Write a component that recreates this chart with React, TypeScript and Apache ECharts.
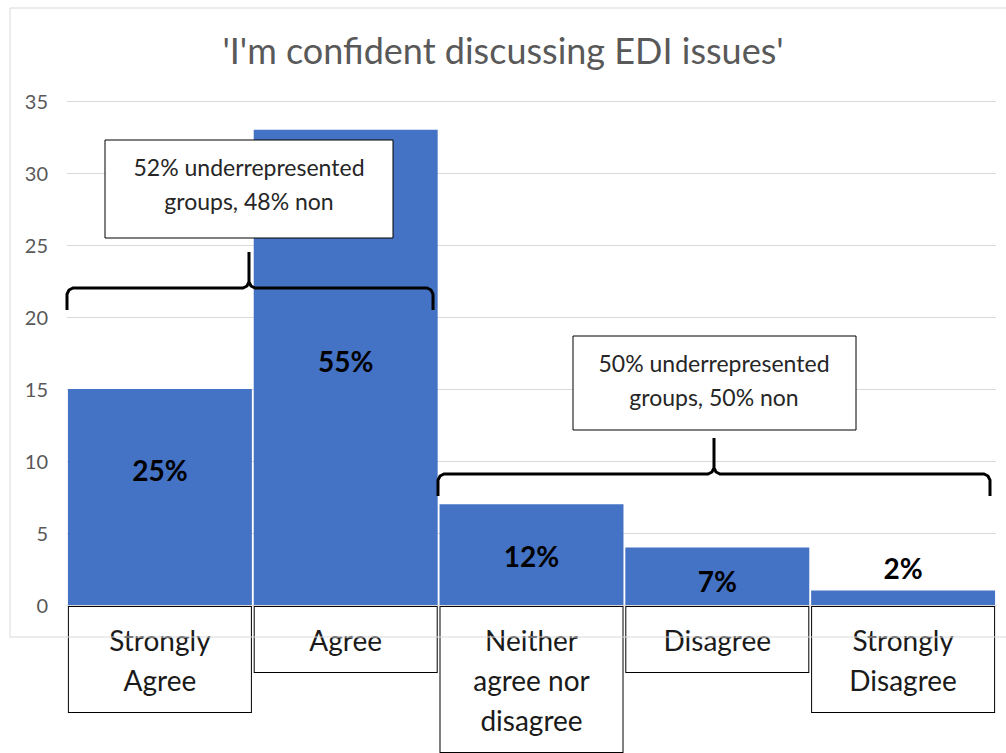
import React, { useEffect, useRef } from "react";
import * as echarts from "echarts";

const categories = [
  "Strongly\nAgree",
  "Agree",
  "Neither\nagree nor\ndisagree",
  "Disagree",
  "Strongly\nDisagree",
];
const counts = [15, 33, 7, 4, 1];
const percentLabels = ["25%", "55%", "12%", "7%", "2%"];
const yTicks = { min: 0, max: 35, interval: 5 };
const titleText = "'I'm confident discussing EDI issues'";
const noteAgree = ["52% underrepresented", "groups, 48% non"];
const noteRest = ["50% underrepresented", "groups, 50% non"];

const FONT = "Lato, 'Open Sans', sans-serif";

// label vertical nudges (styling only)
const labelOffsetsY = [-27, -6, 1, 5, -4];

function brace(x1: number, x2: number, tipX: number, y: number, endY: number, tipY: number) {
  const r = 6;
  return [
    [x1, endY],
    [x1, y + r],
    [x1 + 2, y + 2],
    [x1 + r, y],
    [tipX - r, y],
    [tipX - 2, y - 2],
    [tipX, y - r],
    [tipX, tipY],
    [tipX, y - r],
    [tipX + 2, y - 2],
    [tipX + r, y],
    [x2 - r, y],
    [x2 - 2, y + 2],
    [x2, y + r],
    [x2, endY],
  ];
}

export default function App() {
  const ref = useRef<HTMLDivElement>(null);
  useEffect(() => {
    if (!ref.current) return;
    const chart = echarts.init(ref.current, undefined, { renderer: "svg" });
    const option: any = {
      animation: false,
      backgroundColor: "#ffffff",
      title: {
        text: titleText,
        left: "center",
        top: 27,
        textStyle: {
          fontFamily: FONT,
          fontSize: 36,
          fontWeight: "normal",
          color: "#595959",
        },
      },
      grid: { left: 67, right: 10, top: 101, bottom: 147, containLabel: false },
      xAxis: {
        type: "category",
        data: categories,
        axisTick: { show: false },
        axisLine: { lineStyle: { color: "#d9d9d9" } },
        axisLabel: {
          interval: 0,
          margin: 2,
          verticalAlign: "top",
          fontFamily: FONT,
          fontSize: 28,
          lineHeight: 40,
          color: "#1a1a1a",
          width: 182,
          align: "center",
          backgroundColor: "#ffffff",
          borderColor: "#000000",
          borderWidth: 1,
          padding: [13, 0, 12, 0],
        },
      },
      yAxis: {
        type: "value",
        min: yTicks.min,
        max: yTicks.max,
        interval: yTicks.interval,
        axisLine: { show: false },
        axisTick: { show: false },
        splitLine: { lineStyle: { color: "#d9d9d9", width: 1 } },
        axisLabel: {
          margin: 19,
          fontFamily: FONT,
          fontSize: 20,
          color: "#595959",
        },
      },
      series: [
        {
          type: "bar",
          barCategoryGap: "1%",
          itemStyle: { color: "#4472c4" },
          data: counts.map((v, i) => ({
            value: v,
            label: {
              show: true,
              position: i === counts.length - 1 ? "top" : "inside",
              offset: [0, labelOffsetsY[i]],
              formatter: () => percentLabels[i],
              fontFamily: FONT,
              fontSize: 28,
              fontWeight: "bold",
              color: "#000000",
            },
          })),
        },
      ],
      graphic: [
        {
          type: "rect",
          z: 100,
          shape: { x: 10, y: 8, width: 1010, height: 629 },
          style: { fill: "none", stroke: "#d9d9d9", lineWidth: 1 },
          silent: true,
        },
        {
          type: "polyline",
          z: 100,
          shape: { points: brace(67, 433, 249, 288, 310, 252) },
          style: { fill: "none", stroke: "#000000", lineWidth: 3 },
        },
        {
          type: "polyline",
          z: 100,
          shape: { points: brace(438, 990, 714, 474, 496, 438) },
          style: { fill: "none", stroke: "#000000", lineWidth: 3 },
        },
        {
          type: "rect",
          z: 101,
          shape: { x: 105, y: 140, width: 288, height: 98 },
          style: { fill: "#ffffff", stroke: "#000000", lineWidth: 1 },
        },
        {
          type: "text",
          z: 102,
          x: 249,
          y: 184,
          style: {
            text: noteAgree.join("\n"),
            fontFamily: FONT,
            fontSize: 23,
            lineHeight: 34,
            fill: "#262626",
            align: "center",
            verticalAlign: "middle",
          },
        },
        {
          type: "rect",
          z: 101,
          shape: { x: 573, y: 336, width: 283, height: 94 },
          style: { fill: "#ffffff", stroke: "#000000", lineWidth: 1 },
        },
        {
          type: "text",
          z: 102,
          x: 714,
          y: 380,
          style: {
            text: noteRest.join("\n"),
            fontFamily: FONT,
            fontSize: 23,
            lineHeight: 34,
            fill: "#262626",
            align: "center",
            verticalAlign: "middle",
          },
        },
      ],
    };
    chart.setOption(option);
    return () => chart.dispose();
  }, []);
  return (
    <div
      ref={ref}
      style={{ position: "fixed", left: 0, top: 0, width: 1006, height: 753 }}
    />
  );
}
